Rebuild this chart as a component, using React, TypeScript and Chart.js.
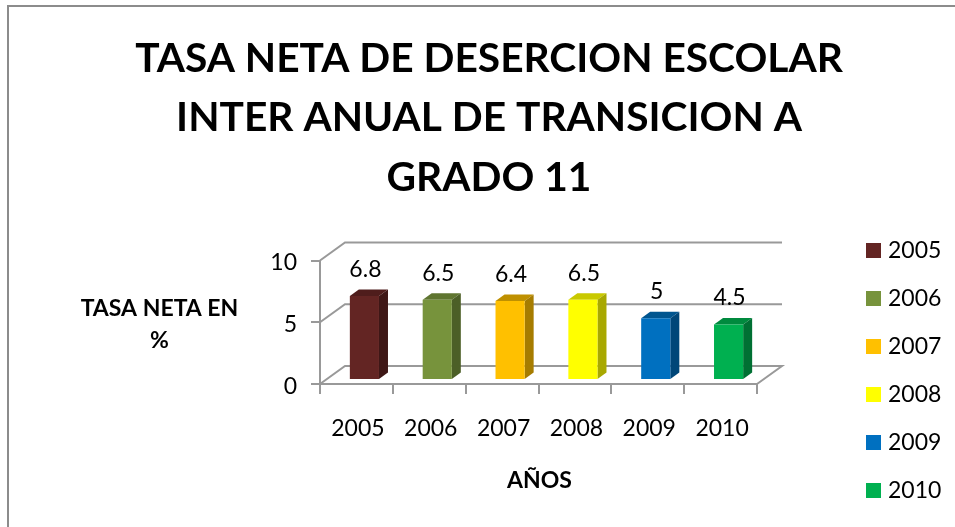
import React, { useEffect, useRef } from "react";
import { Chart, registerables } from "chart.js";

Chart.register(...registerables);

const categories = ["2005", "2006", "2007", "2008", "2009", "2010"];
const values = [6.8, 6.5, 6.4, 6.5, 5, 4.5];
const faceColors = ["#632523", "#77933C", "#FFC000", "#FFFF00", "#0070C0", "#00B050"];
const topColors = ["#4F1D1C", "#5F7530", "#BF9000", "#C9C900", "#00558F", "#008A3E"];
const sideColors = ["#3E1716", "#4C5F27", "#A67C00", "#A8A800", "#004678", "#007033"];
const titleLines = ["TASA NETA DE DESERCION ESCOLAR", "INTER ANUAL DE TRANSICION A", "GRADO 11"];
const yTitleLines = ["TASA NETA EN", "%"];
const xTitle = "AÑOS";

const FONT = "Lato, Carlito, Calibri, sans-serif";
const GRID = "#999999";
const DEPTH = { x: 25, y: -18 };
const BAR_SHIFT = { x: 8, y: -4 };
const BAR_DEPTH = { x: 9, y: -6.5 };

function poly(ctx: CanvasRenderingContext2D, pts: number[][], fill: string) {
  ctx.beginPath();
  pts.forEach((p, i) => (i ? ctx.lineTo(p[0], p[1]) : ctx.moveTo(p[0], p[1])));
  ctx.closePath();
  ctx.fillStyle = fill;
  ctx.fill();
}

function shiftLabels(s: any, dx: number, dy: number) {
  if (s.__labelShift) return;
  const compute = s._computeLabelItems.bind(s);
  s._computeLabelItems = (area: any) => {
    const items = compute(area);
    items.forEach((it: any) => {
      it.options.translation[0] += dx;
      it.options.translation[1] += dy;
    });
    return items;
  };
  s.__labelShift = true;
}

const scene = {
  id: "scene",
  afterLayout(chart: any) {
    const l = chart.legend;
    l.left = 845.5;
    l.right = 955;
    l.top = 214;
    l.bottom = 527;
  },
  beforeDraw(chart: any) {
    const { ctx, width, height } = chart;
    ctx.save();
    ctx.fillStyle = "#FFFFFF";
    ctx.fillRect(0, 0, width, height);
    ctx.strokeStyle = "#8C8C8C";
    ctx.lineWidth = 2;
    ctx.beginPath();
    ctx.moveTo(8, height);
    ctx.lineTo(8, 6);
    ctx.lineTo(width, 6);
    ctx.stroke();
    ctx.restore();
  },
  beforeDatasetsDraw(chart: any) {
    const { ctx, scales } = chart;
    const { left, right } = chart.chartArea;
    ctx.save();
    ctx.strokeStyle = GRID;
    ctx.lineWidth = 2;
    [0, 5, 10].forEach((v) => {
      const y = scales.y.getPixelForValue(v);
      ctx.beginPath();
      ctx.moveTo(left, y);
      ctx.lineTo(left + DEPTH.x, y + DEPTH.y);
      ctx.lineTo(right + DEPTH.x, y + DEPTH.y);
      if (v === 0) ctx.lineTo(right, y);
      ctx.stroke();
    });
    const meta = chart.getDatasetMeta(0);
    ctx.translate(BAR_SHIFT.x, BAR_SHIFT.y);
    meta.data.forEach((bar: any, i: number) => {
      const hw = bar.width / 2;
      const l = bar.x - hw;
      const r = bar.x + hw;
      poly(ctx, [[l, bar.y], [l + BAR_DEPTH.x, bar.y + BAR_DEPTH.y], [r + BAR_DEPTH.x, bar.y + BAR_DEPTH.y], [r, bar.y]], topColors[i]);
      poly(ctx, [[r, bar.y], [r + BAR_DEPTH.x, bar.y + BAR_DEPTH.y], [r + BAR_DEPTH.x, bar.base + BAR_DEPTH.y], [r, bar.base]], sideColors[i]);
    });
    // stays translated while the library draws the front faces
  },
  afterDatasetsDraw(chart: any) {
    const { ctx } = chart;
    ctx.restore();
    ctx.save();
    ctx.fillStyle = "#000000";
    ctx.textAlign = "center";
    ctx.textBaseline = "middle";
    ctx.font = `23px ${FONT}`;
    chart.getDatasetMeta(0).data.forEach((bar: any, i: number) => {
      ctx.fillText(String(values[i]), bar.x + BAR_SHIFT.x + 1, bar.y + BAR_SHIFT.y - 26.5);
    });
    ctx.font = `bold 23px ${FONT}`;
    yTitleLines.forEach((t, i) => ctx.fillText(t, 159.5, 309 + i * 32));
    ctx.fillText(xTitle, 539.5, 481);
    ctx.restore();
  },
};

export default function App() {
  const ref = useRef<HTMLCanvasElement>(null);
  useEffect(() => {
    const chart = new Chart(ref.current as HTMLCanvasElement, {
      type: "bar",
      data: {
        labels: categories,
        datasets: [{
          data: values,
          backgroundColor: faceColors,
          barPercentage: 0.4,
          categoryPercentage: 1,
        }],
      },
      options: {
        responsive: false,
        animation: false,
        layout: { padding: { left: 23, right: 0, top: 29, bottom: 0 } },
        scales: {
          x: {
            grid: { display: true, drawOnChartArea: false, color: GRID, lineWidth: 2, tickLength: 10 },
            border: { color: GRID, width: 2 },
            ticks: { color: "#000", font: { family: FONT, size: 23 }, padding: 21, maxRotation: 0 },
            afterFit(s: any) {
              s.height = 143;
              shiftLabels(s, 1.5, 0);
            },
          },
          y: {
            min: 0,
            max: 10,
            grid: { display: true, drawOnChartArea: false, color: GRID, lineWidth: 2, tickLength: 9 },
            border: { color: GRID, width: 2 },
            ticks: { stepSize: 5, color: "#000", font: { family: FONT, size: 23 }, padding: 14 },
            afterFit(s: any) {
              s.width = 320 - 23;
              shiftLabels(s, 0, 2.5);
            },
          },
        },
        plugins: {
          title: {
            display: true,
            text: titleLines,
            color: "#000",
            font: { family: FONT, size: 40.7, weight: "bold", lineHeight: 1.462 },
            padding: { top: 0, bottom: 53 },
          },
          legend: {
            position: "right",
            align: "start",
            labels: {
              color: "#000",
              font: { family: FONT, size: 23 },
              usePointStyle: true,
              pointStyle: "rect",
              boxWidth: 6,
              boxHeight: 15,
              padding: 25,
              generateLabels: () =>
                categories.map((c, i) => ({
                  text: c,
                  fillStyle: faceColors[i],
                  strokeStyle: faceColors[i],
                  lineWidth: 0,
                  pointStyle: "rect",
                  index: i,
                  datasetIndex: 0,
                })),
            },
          },
          tooltip: { enabled: false },
        },
      },
      plugins: [
        {
          id: "legendRoom",
          beforeLayout(c: any) {
            const l = c.legend;
            if (l && !l.__wrapped) {
              const fit = l.fit.bind(l);
              l.fit = () => {
                fit();
                l.width = 955 - 757;
              };
              l.__wrapped = true;
            }
          },
        },
        scene,
      ],
    } as any);
    return () => chart.destroy();
  }, []);
  return (
    <div style={{ position: "fixed", left: 0, top: 0, width: 955, height: 527 }}>
      <canvas ref={ref} width={955} height={527} style={{ display: "block" }} />
    </div>
  );
}
